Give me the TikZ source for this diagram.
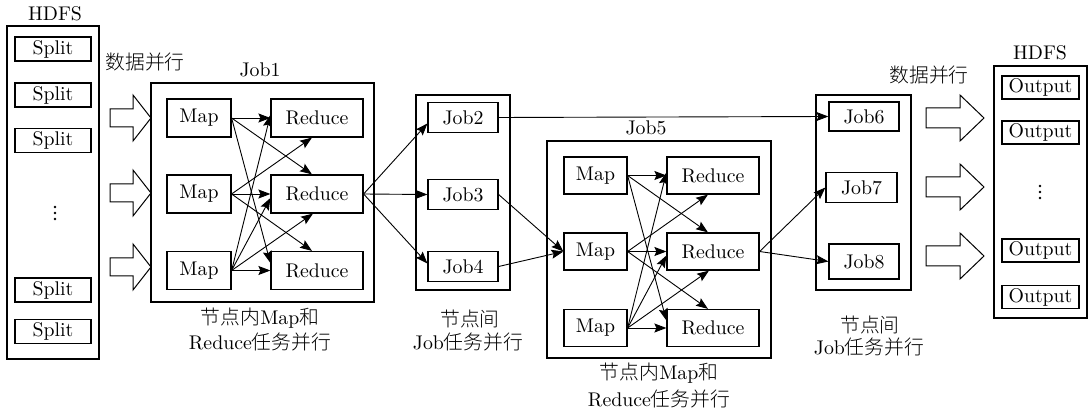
\documentclass[tikz,border=0pt]{standalone}
\usepackage{fontspec}
\setmainfont{lmroman10-regular}[Extension=.otf]
\newfontfamily\cjk{Noto Sans CJK SC}[UprightFont={* Light}]
\usetikzlibrary{arrows.meta}

% arrows from every Map box to the Reduce boxes of one job
\newcommand\mrwires[1]{%
  \draw[link] (#1m1.east) -- (#1r1.west);
  \draw[link] (#1m1.east) -- ([xshift=-5pt]#1r2.north);
  \draw[link] (#1m1.east) -- ([yshift=7.5pt]#1r3.west);
  \draw[link] (#1m2.east) -- ([xshift=-5pt]#1r1.south);
  \draw[link] (#1m2.east) -- (#1r2.west);
  \draw[link] (#1m2.east) -- ([xshift=-5pt]#1r3.north);
  \draw[link] (#1m3.east) -- ([yshift=3pt]#1r1.west);
  \draw[link] (#1m3.east) -- ([yshift=-4pt]#1r2.west);
  \draw[link] (#1m3.east) -- ([xshift=-4pt]#1r2.south);
  \draw[link] (#1m3.east) -- (#1r3.west);
}

\begin{document}
\begin{tikzpicture}[x=1pt,y=-1pt,
  every node/.style={font=\fontsize{19.8pt}{23pt}\selectfont, inner sep=0pt},
  box/.style={draw, rectangle, line width=1.2pt},
  frame/.style={draw, rectangle, line width=1.2pt},
  split/.style={box, minimum width=76pt, minimum height=24pt},
  outbox/.style={box, minimum width=77pt, minimum height=23pt},
  mapbox/.style={box, minimum width=64pt, minimum height=38pt},
  redbox/.style={box, minimum width=92pt, minimum height=38pt},
  jobbox/.style={box, minimum width=70pt, minimum height=30pt},
  link/.style={line width=0.9pt, -{Stealth[length=12pt,width=9pt,inset=2pt]}},
  blk/.style={draw, line width=1pt, fill=white, line join=miter},
  pics/bigarrow/.style n args={3}{code={%
    \draw[blk] (0,-#3) -- (#2,-#3) -- (#2,-23) -- (#1,0) -- (#2,23)
      -- (#2,#3) -- (0,#3) -- cycle;}}]
\useasboundingbox (0,0) rectangle (1091,411);

% ---------- input HDFS ----------
\node (hdfsA) at (55,14) {HDFS};
\node[frame, minimum width=92pt, minimum height=333pt] (inframe) at (53,192.5) {};
\node[split] (s1) at (53,49) {Split};
\node[split] (s2) at (53,95) {Split};
\node[split] (s3) at (53,140.5) {Split};
\foreach \yy in {207,213,219} \fill (55,\yy) circle (1.4pt);
\node[split] (s4) at (53,290) {Split};
\node[split] (s5) at (53,331.5) {Split};

\node (dpA) at (145,62) {\cjk 数据并行};
\pic at (110,118) {bigarrow={41}{23}{9}};
\pic at (110,193) {bigarrow={41}{23}{9}};
\pic at (110,267) {bigarrow={41}{23}{9}};

% ---------- Job1 ----------
\node (job1lbl) at (260,70) {Job1};
\node[frame, minimum width=223pt, minimum height=219pt] (job1) at (262.5,192.5) {};
\node[mapbox] (am1) at (199,118) {Map};
\node[mapbox] (am2) at (199,194) {Map};
\node[mapbox] (am3) at (199,270.5) {Map};
\node[redbox] (ar1) at (317,118) {Reduce};
\node[redbox] (ar2) at (317,194) {Reduce};
\node[redbox] (ar3) at (317,270.5) {Reduce};
\mrwires{a}
\node (job1capA) at (260,318) {{\cjk 节点内}Map{\cjk 和}};
\node (job1capB) at (260,342) {Reduce{\cjk 任务并行}};

% ---------- Job2 - Job4 ----------
\node[frame, minimum width=94pt, minimum height=195pt] (grpA) at (463,192.5) {};
\node[jobbox] (job2) at (463,117.5) {Job2};
\node[jobbox] (job3) at (463,194.5) {Job3};
\node[jobbox] (job4) at (463,266.5) {Job4};
\node (grpAcapA) at (470,319) {\cjk 节点间};
\node (grpAcapB) at (468,342) {Job{\cjk 任务并行}};
\draw[link] (ar2.east) -- ([yshift=-6pt]job2.west);
\draw[link] (ar2.east) -- (job3.west);
\draw[link] (ar2.east) -- ([yshift=3pt]job4.west);

% ---------- Job5 ----------
\node (job5lbl) at (646,128) {Job5};
\node[frame, minimum width=224pt, minimum height=217pt] (job5) at (659,249.5) {};
\node[mapbox, minimum width=63pt, minimum height=37pt] (bm1) at (595.5,175.5) {Map};
\node[mapbox, minimum width=63pt, minimum height=37pt] (bm2) at (595.5,251.5) {Map};
\node[mapbox, minimum width=63pt, minimum height=37pt] (bm3) at (595.5,328) {Map};
\node[redbox, minimum height=37pt] (br1) at (713,175.5) {Reduce};
\node[redbox, minimum height=37pt] (br2) at (713,251.5) {Reduce};
\node[redbox, minimum height=37pt] (br3) at (713,328) {Reduce};
\mrwires{b}
\node (job5capA) at (659,373) {{\cjk 节点内}Map{\cjk 和}};
\node (job5capB) at (659,399) {Reduce{\cjk 任务并行}};
\draw[link] (job3.east) -- (bm2.west);
\draw[link] (job4.east) -- (bm2.west);

% ---------- Job6 - Job8 ----------
\node[frame, minimum width=95pt, minimum height=195pt] (grpB) at (863.5,192.5) {};
\node[jobbox, minimum height=29pt] (job6) at (864,116.5) {Job6};
\node[jobbox, minimum width=71pt] (job7) at (861.5,187.5) {Job7};
\node[jobbox, minimum height=35pt] (job8) at (864,261.5) {Job8};
\node (grpBcapA) at (870,325) {\cjk 节点间};
\node (grpBcapB) at (869,347) {Job{\cjk 任务并行}};
\draw[link] (job2.east) -- (job6.west);
\draw[link] (br2.east) -- (job7.west);
\draw[link] (br2.east) -- (job8.west);

% ---------- output HDFS ----------
\node (dpB) at (929,75) {\cjk 数据并行};
\pic at (926,118) {bigarrow={58}{34}{10}};
\pic at (926,187) {bigarrow={58}{34}{10}};
\pic at (926,256) {bigarrow={58}{34}{10}};

\node (hdfsB) at (1040,53) {HDFS};
\node[frame, minimum width=93pt, minimum height=252pt] (outframe) at (1040.5,192) {};
\node[outbox] (o1) at (1040.5,87.5) {Output};
\node[outbox] (o2) at (1040.5,132.5) {Output};
\foreach \yy in {186,192,198} \fill (1040,\yy) circle (1.4pt);
\node[outbox] (o3) at (1040.5,250.5) {Output};
\node[outbox] (o4) at (1040.5,297) {Output};
\end{tikzpicture}
\end{document}
